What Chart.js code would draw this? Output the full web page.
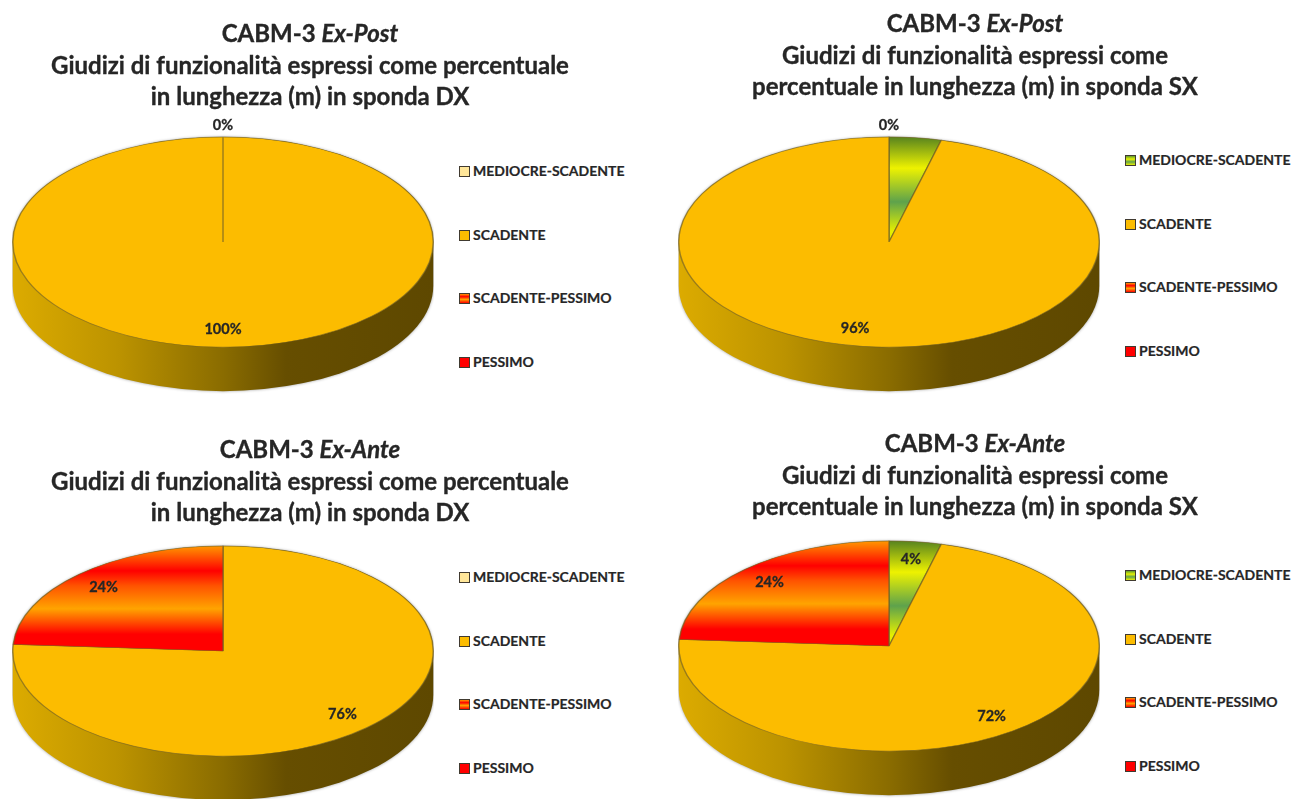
<!DOCTYPE html>
<html lang="it">
<head>
<meta charset="utf-8">
<title>CABM-3 giudizi di funzionalità</title>
<script src="https://cdn.jsdelivr.net/npm/chart.js@4"></script>
<style>
    html, body { margin: 0; background: #fff; overflow: hidden; }
    #page { position: relative; width: 1293px; height: 799px; overflow: hidden; font-family: Lato, sans-serif; font-weight: 700; color: #262626; }
    #page canvas { position: absolute; }
    .title { position: absolute; width: 640px; text-align: center; font-size: 24px; line-height: 31.5px; -webkit-text-stroke: 0.35px #262626; }
    .legend-item { position: absolute; font-size: 14px; line-height: 16px; white-space: nowrap; -webkit-text-stroke: 0.2px #262626; }
    .swatch { display: inline-block; width: 9px; height: 9px; border: 1px solid #403a30; margin-right: 3px; vertical-align: -1px; -webkit-text-stroke: 0; }
</style>
</head>
<body>
<div id="page"></div>
<script>
// values, clockwise from 12 o'clock
const categories = ['MEDIOCRE-SCADENTE', 'SCADENTE', 'SCADENTE-PESSIMO', 'PESSIMO'];
const postDx = [0, 100, 0, 0];
const postSx = [4, 96, 0, 0];
const anteDx = [0, 76, 0, 24];
const anteSx = [4, 72, 0, 24];
// only the last zero slice of the two Ex-Post charts got a label
const postLabels = ['', 'auto', '', 'auto'];
const anteLabels = ['auto', 'auto', '', 'auto'];
const anteDxLabels = ['', 'auto', '', 'auto'];

const SIZE = 422;
const SQUASH = 0.5;
const DEPTH = 44;

function stripes(ctx, stops) {
    const g = ctx.createLinearGradient(0, 0, 0, SIZE / 2);
    stops.forEach(s => g.addColorStop(s[0], s[1]));
    return g;
}

const greenStops = [[0, '#55821f'], [0.3, '#eef200'], [0.62, '#5ea24c'], [0.9, '#e6f000'], [1, '#d8e800']];
const redStops = [[0, '#ff9a00'], [0.24, '#ff0000'], [0.38, '#ff5200'], [0.6, '#ffa400'], [0.84, '#ff0000'], [1, '#ff0000']];

const greenCss = 'linear-gradient(#5e9a30, #e8f000 35%, #62a24c 65%, #e8f000)';
const redCss = 'linear-gradient(#ff9a00, #ff0000 30%, #ffa400 60%, #ff0000)';

const charts = [
    { id: 'postDx', values: postDx, labels: postLabels, cx: 222.5, cy: 241.5, green: false, nudge: {},
      head: 'Ex-Post', lines: ['Giudizi di funzionalità espressi come percentuale', 'in lunghezza (m) in sponda DX'], titleX: 310, titleY: 17, legendY: 171 },
    { id: 'postSx', values: postSx, labels: postLabels, cx: 888.5, cy: 241.5, green: true, nudge: { 1: -12 },
      head: 'Ex-Post', lines: ['Giudizi di funzionalità espressi come', 'percentuale in lunghezza (m) in sponda SX'], titleX: 975, titleY: 7, legendY: 160 },
    { id: 'anteDx', values: anteDx, labels: anteDxLabels, cx: 222.5, cy: 651, green: false, nudge: {},
      head: 'Ex-Ante', lines: ['Giudizi di funzionalità espressi come percentuale', 'in lunghezza (m) in sponda DX'], titleX: 310, titleY: 433, legendY: 577 },
    { id: 'anteSx', values: anteSx, labels: anteLabels, cx: 888.5, cy: 646, green: true, nudge: {},
      head: 'Ex-Ante', lines: ['Giudizi di funzionalità espressi come', 'percentuale in lunghezza (m) in sponda SX'], titleX: 975, titleY: 427, legendY: 575 }
];

// squashes the flat pie into an ellipse and adds the side wall under it
const tiltPlugin = {
    id: 'tilt',
    beforeDatasetsDraw(chart) {
        const ctx = chart.ctx;
        const arc = chart.getDatasetMeta(0).data[0];
        const { x, y, outerRadius: r } = arc.getProps(['x', 'y', 'outerRadius'], true);
        const ry = r * SQUASH;
        const wall = ctx.createLinearGradient(x - r, 0, x + r, 0);
        wall.addColorStop(0, '#dcab00');
        wall.addColorStop(0.25, '#bc9300');
        wall.addColorStop(0.5, '#8a6c00');
        wall.addColorStop(0.65, '#664e00');
        wall.addColorStop(1, '#5e4800');
        ctx.save();
        ctx.shadowColor = 'rgba(0,0,0,0.4)';
        ctx.shadowBlur = 3;
        ctx.fillStyle = wall;
        ctx.beginPath();
        ctx.ellipse(x, y + DEPTH, r, ry, 0, Math.PI, 0, true);
        ctx.ellipse(x, y, r, ry, 0, 0, Math.PI, true);
        ctx.closePath();
        ctx.fill();
        ctx.restore();
        ctx.save();
        ctx.translate(0, y);
        ctx.scale(1, SQUASH);
        ctx.translate(0, -y);
    },
    afterDatasetsDraw(chart, args, opts) {
        const ctx = chart.ctx;
        ctx.restore();
        const values = chart.data.datasets[0].data;
        ctx.save();
        ctx.font = '700 14.5px Lato, sans-serif';
        ctx.fillStyle = '#262626';
        ctx.strokeStyle = '#262626';
        ctx.lineWidth = 0.3;
        ctx.textAlign = 'center';
        ctx.textBaseline = 'middle';
        chart.getDatasetMeta(0).data.forEach((arc, i) => {
            if (!opts.labels[i]) return;
            const p = arc.getProps(['x', 'y', 'startAngle', 'endAngle', 'outerRadius'], true);
            const mid = (p.startAngle + p.endAngle) / 2;
            // zero slices sit just outside the rim
            const f = values[i] === 0 ? 1.11 : 0.83;
            const lx = p.x + Math.cos(mid) * p.outerRadius * f + (opts.nudge[i] || 0);
            const ly = p.y + Math.sin(mid) * p.outerRadius * f * SQUASH;
            ctx.fillText(values[i] + '%', lx, ly);
            ctx.strokeText(values[i] + '%', lx, ly);
        });
        ctx.restore();
    }
};

function addTitle(c) {
    const t = document.createElement('div');
    t.className = 'title';
    t.style.left = (c.titleX - 320) + 'px';
    t.style.top = c.titleY + 'px';
    t.innerHTML = `CABM-3 <i>${c.head}</i><br>${c.lines.join('<br>')}`;
    document.getElementById('page').appendChild(t);
}

function addLegend(c) {
    const fills = [c.green ? greenCss : '#ffe699', '#fcbc00', redCss, '#ff0000'];
    categories.forEach((name, i) => {
        const item = document.createElement('div');
        item.className = 'legend-item';
        item.style.left = (c.cx + 236.5) + 'px';
        item.style.top = (c.legendY + i * 63.7 - 8) + 'px';
        item.innerHTML = `<span class="swatch" style="background:${fills[i]}"></span>${name}`;
        document.getElementById('page').appendChild(item);
    });
}

function addChart(c) {
    const canvas = document.createElement('canvas');
    canvas.id = c.id;
    canvas.width = SIZE;
    canvas.height = SIZE;
    canvas.style.left = (c.cx - SIZE / 2) + 'px';
    canvas.style.top = (c.cy - SIZE / 2) + 'px';
    document.getElementById('page').appendChild(canvas);
    const ctx = canvas.getContext('2d');
    const colors = [
        c.green ? stripes(ctx, greenStops) : '#ffe699',
        '#fcbc00',
        stripes(ctx, redStops),
        stripes(ctx, redStops)
    ];
    new Chart(ctx, {
        type: 'pie',
        data: {
            labels: categories,
            datasets: [{
                data: c.values,
                backgroundColor: colors,
                borderColor: 'rgba(110,95,40,0.65)',
                borderWidth: 1.5
            }]
        },
        options: {
            responsive: false,
            animation: false,
            events: [],
            plugins: {
                legend: { display: false },
                tooltip: { enabled: false },
                tilt: { labels: c.labels, nudge: c.nudge }
            }
        },
        plugins: [tiltPlugin]
    });
}

charts.forEach(c => {
    addChart(c);
    addTitle(c);
    addLegend(c);
});
</script>
</body>
</html>
